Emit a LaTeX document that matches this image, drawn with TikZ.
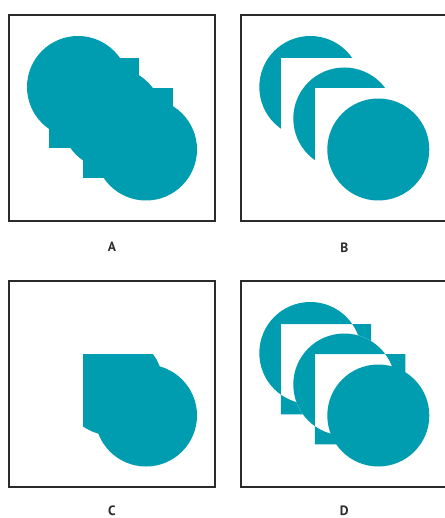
\documentclass[tikz,border=0pt]{standalone}
\usepackage{fontspec}
\setsansfont{PT Sans}
\usepackage{xcolor}
\usepackage{tikz}
\usetikzlibrary{positioning}

\definecolor{knockteal}{HTML}{009DB0}
\definecolor{framegray}{HTML}{2B2B2B}

\newcommand{\discone}{(78,87) circle[radius=51pt]}
\newcommand{\disctwo}{(112,118.5) circle[radius=51pt]}
\newcommand{\discthree}{(146,149.5) circle[radius=51pt]}
\newcommand{\sqone}{(48.5,58) rectangle (138.8,148.3)}
\newcommand{\sqtwo}{(82.5,88) rectangle (173,178.3)}

\begin{document}
\begin{tikzpicture}[x=1pt, y=-1pt,
            panel/.style={draw=framegray, line width=1.8pt, minimum width=206pt, minimum height=205.5pt, outer sep=0pt, inner sep=0pt},
            tealfill/.style={fill=knockteal},
            hole/.style={fill=white},
            caption/.style={font=\sffamily\bfseries\fontsize{13.5}{15}\selectfont, text=framegray, inner sep=0pt, anchor=north}]
            
            \useasboundingbox (0,0) rectangle (444,518);
            
            \node[panel] (frameA) at (112,118) {};
            \node[panel, right=26.3pt of frameA] (frameB) {};
            \node[panel, below=60.5pt of frameA] (frameC) {};
            \node[panel, right=26.3pt of frameC] (frameD) {};
            
            \node[caption, below=21.5pt of frameA] (labA) {A};
            \node[caption, below=21.5pt of frameB] (labB) {B};
            \node[caption, below=19pt of frameC] (labC) {C};
            \node[caption, below=19pt of frameD] (labD) {D};
            
            % A
            \fill[tealfill] \discone;
            \fill[tealfill] \sqone;
            \fill[tealfill] \disctwo;
            \fill[tealfill] \sqtwo;
            \fill[tealfill] \discthree;
            
            % B
            \begin{scope}[shift={(232.3,0)}]
                \fill[tealfill] \discone;
                \fill[hole] \sqone;
                \fill[tealfill] \disctwo;
                \fill[hole] \sqtwo;
                \fill[tealfill] \discthree;
            \end{scope}
            
            % C
            \begin{scope}[shift={(0,266)}]
                \begin{scope}
                    \clip \disctwo;
                    \fill[tealfill] \sqtwo;
                \end{scope}
                \fill[tealfill] \discthree;
            \end{scope}
            
            % D
            \begin{scope}[shift={(232.3,266)}]
                \fill[tealfill, even odd rule] \discone \sqone;
                \fill[hole] \disctwo;
                \fill[hole] \sqtwo;
                \fill[tealfill, even odd rule] \disctwo \sqtwo;
                \fill[tealfill] \discthree;
            \end{scope}
        \end{tikzpicture}
\end{document}
